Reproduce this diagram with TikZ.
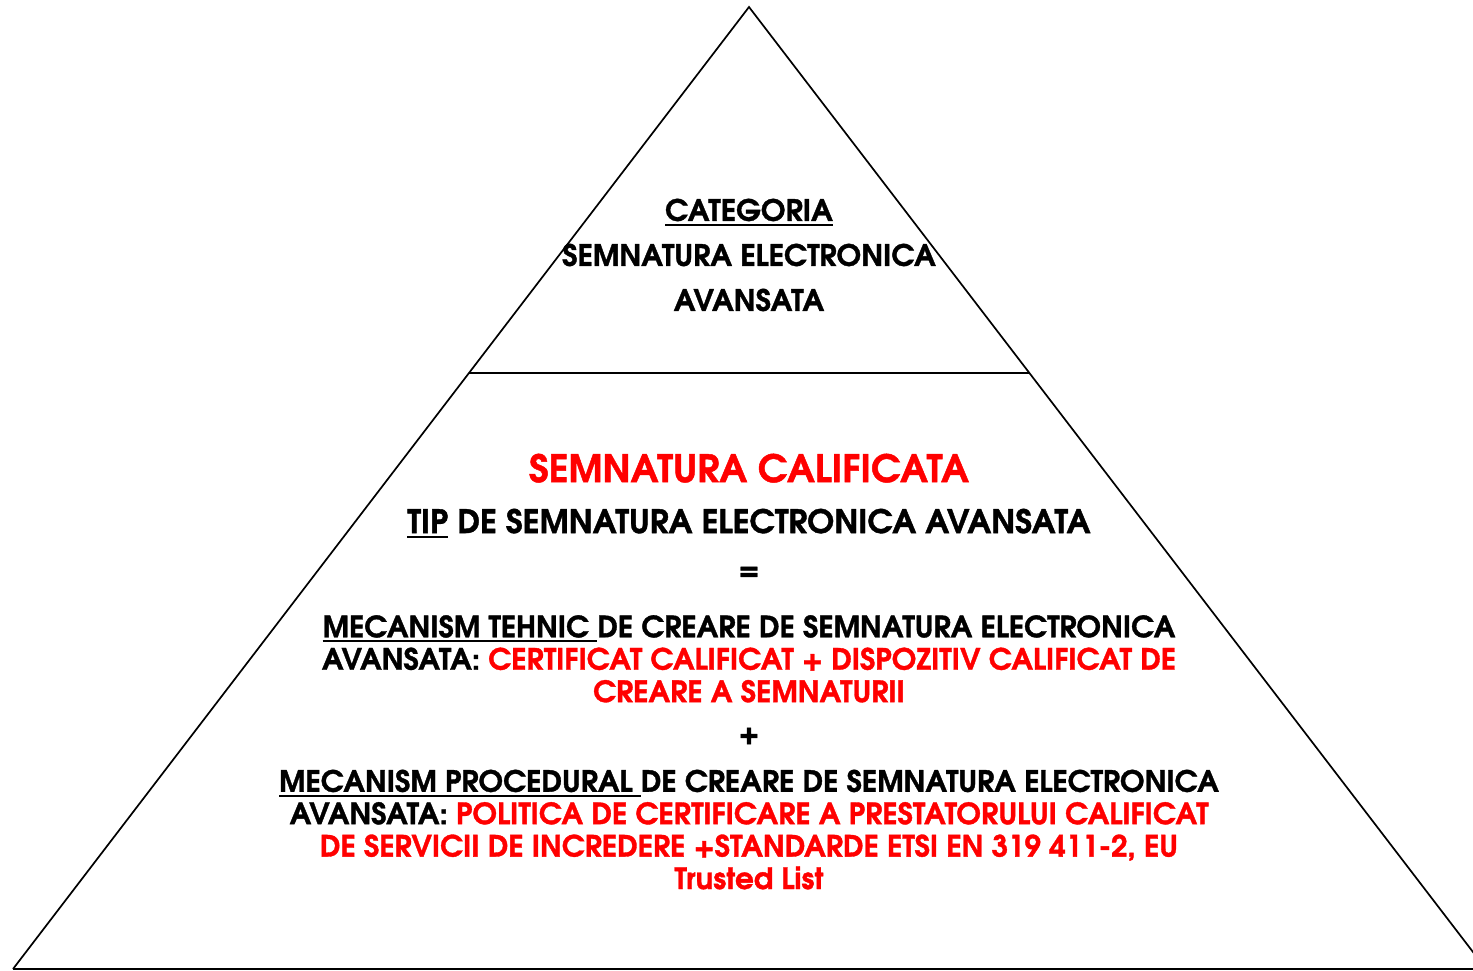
\documentclass[tikz,border=0pt]{standalone}
\usepackage{fontspec}
\newfontfamily\gothic[FakeBold=1.2]{TeX Gyre Adventor}
\usetikzlibrary{calc}

\definecolor{sigred}{RGB}{255,0,0}
\newsavebox{\ulinebox}
\newcommand{\ulbar}[1]{\leavevmode\sbox{\ulinebox}{#1}\rlap{\rule[-5pt]{\wd\ulinebox}{2.2pt}}\usebox{\ulinebox}}

\tikzset{
	side/.style={line width=1.7pt, line join=miter},
	basetext/.style={inner sep=0pt, align=center},
	bigtext/.style={basetext, font=\gothic\bfseries\fontsize{29.5}{45}\selectfont},
	tiptext/.style={basetext, font=\gothic\bfseries\fontsize{32.4}{40}\selectfont},
	titletext/.style={basetext, text=sigred, font=\gothic\bfseries\fontsize{37.9}{44}\selectfont},
	smalltext/.style={basetext, font=\gothic\bfseries\fontsize{29.4}{32.4}\selectfont}
}

\begin{document}
\begin{tikzpicture}[x=1pt, y=-1pt]
		\useasboundingbox (0,0) rectangle (1473,971);
		\coordinate (top) at (749,7);
		\coordinate (botL) at (13,969);
		\coordinate (botR) at (1486,969);
		\coordinate (midL) at ($(top)!0.3805!(botL)$);
		\coordinate (midR) at ($(top)!0.3805!(botR)$);
		% pyramid
		\begin{scope}
			\clip (0,0) rectangle (1473,971);
			\draw[side] (botL) -- (top) -- (botR);
			\draw[side, line width=2.3pt] (botL) -- (botR);
			\draw[side] (midL) -- (midR);
		\end{scope}
		% upper part
		\node[bigtext, anchor=north] (categ) at (749,198.5) {\ulbar{CATEGORIA}\\SEMNATURA ELECTRONICA\\AVANSATA};
		% lower part
		\node[titletext, anchor=north] (calif) at (749,453.5) {SEMNATURA CALIFICATA};
		\node[tiptext, anchor=north] (tip) at (749,508.5) {\ulbar{TIP} DE SEMNATURA ELECTRONICA AVANSATA};
		\node[bigtext] (eq) at (749,573) {=};
		\node[smalltext, anchor=north] (tehnic) at (749,615) {\ulbar{MECANISM TEHNIC }DE CREARE DE SEMNATURA ELECTRONICA\\
			AVANSATA: \textcolor{sigred}{CERTIFICAT CALIFICAT + DISPOZITIV CALIFICAT DE}\\
			\textcolor{sigred}{CREARE A SEMNATURII}};
		\node[smalltext] (plus) at (749,736) {+};
		\node[smalltext, anchor=north] (proc) at (749,769.5) {\ulbar{MECANISM PROCEDURAL }DE CREARE DE SEMNATURA ELECTRONICA\\
			AVANSATA: \textcolor{sigred}{POLITICA DE CERTIFICARE A PRESTATORULUI CALIFICAT}\\
			\textcolor{sigred}{DE SERVICII DE INCREDERE +STANDARDE ETSI EN 319 411-2, EU}\\
			\textcolor{sigred}{Trusted List}};
	\end{tikzpicture}
\end{document}
